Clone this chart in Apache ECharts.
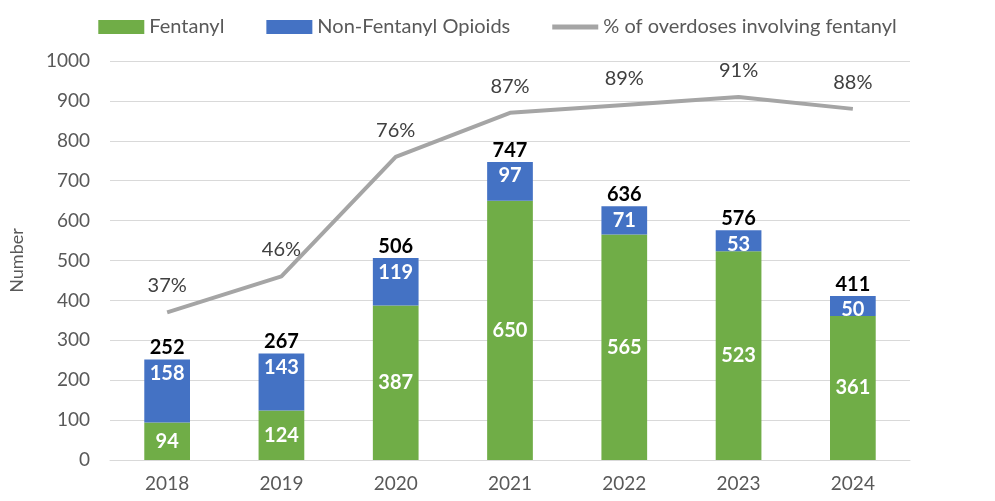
<!DOCTYPE html>
<html><head><meta charset="utf-8">
<script src="https://cdn.jsdelivr.net/npm/echarts@6/dist/echarts.min.js"></script>
<style>html,body{margin:0;padding:0;background:#fff}#c{width:995px;height:501px}</style>
</head><body><div id="c"></div>
<script>
const years = ['2018','2019','2020','2021','2022','2023','2024'];
const fentanyl = [94,124,387,650,565,523,361];
const nonFentanyl = [158,143,119,97,71,53,50];
const totals = [252,267,506,747,636,576,411];
const pctFentanyl = [37,46,76,87,89,91,88];
const yTicks = [0,100,200,300,400,500,600,700,800,900,1000];

const font = 'Lato, "Open Sans", sans-serif';
const chart = echarts.init(document.getElementById('c'));
chart.setOption({
  animation:false,
  textStyle:{fontFamily:font},
  legend:{
    top:12, left:'center', itemGap:42, itemWidth:46, itemHeight:14,
    textStyle:{fontSize:20,color:'#595959',fontFamily:font},
    data:[{name:'Fentanyl',icon:'rect'},{name:'Non-Fentanyl Opioids',icon:'rect'},
          {name:'% of overdoses involving fentanyl',icon:'path://M0,0 L46,0 L46,5 L0,5 Z',
           itemStyle:{color:'#A5A5A5',opacity:1}}]
  },
  grid:{left:108,right:85,top:61,bottom:41,containLabel:false},
  xAxis:{
    type:'category', data:years,
    axisLine:{show:true,lineStyle:{color:'#d9d9d9'}},
    axisTick:{show:false},
    axisLabel:{fontSize:19,color:'#595959',margin:14,fontFamily:font}
  },
  yAxis:[{
    type:'value', min:yTicks[0], max:yTicks[yTicks.length-1], interval:100,
    name:'Number', nameLocation:'middle', nameGap:84, nameRotate:90,
    nameTextStyle:{fontSize:18,color:'#595959',fontFamily:font},
    axisLabel:{fontSize:19,color:'#595959',margin:20,fontFamily:font,formatter:v=>String(v)},
    splitLine:{lineStyle:{color:'#d9d9d9',width:1}},
    axisLine:{show:false}, axisTick:{show:false}
  },{
    type:'value', min:0, max:100, show:false, splitLine:{show:false}
  }],
  series:[
    {name:'Fentanyl', type:'bar', stack:'s', data:fentanyl, barWidth:'40%',
     itemStyle:{color:'#70AD47'},
     label:{show:true,position:'inside',color:'#fff',fontWeight:'bold',fontSize:20,fontFamily:font}},
    {name:'Non-Fentanyl Opioids', type:'bar', stack:'s', data:nonFentanyl, barWidth:'40%',
     itemStyle:{color:'#4472C4'},
     label:{show:true,position:'insideTop',distance:4,color:'#fff',fontWeight:'bold',fontSize:20,fontFamily:font}},
    {name:'totals', type:'line', data:totals, symbol:'circle', symbolSize:1, showSymbol:true,
     itemStyle:{opacity:0}, lineStyle:{opacity:0}, silent:true,
     label:{show:true,position:'top',distance:1,color:'#000',opacity:1,fontWeight:'bold',fontSize:20,fontFamily:font}},
    {name:'% of overdoses involving fentanyl', type:'line', yAxisIndex:1, data:pctFentanyl,
     symbol:'circle', symbolSize:1, showSymbol:true, lineStyle:{color:'#A5A5A5',width:4}, itemStyle:{color:'#A5A5A5',opacity:0},
     label:{show:true,position:'top',distance:16,color:'#404040',opacity:1,fontSize:20,fontFamily:font,formatter:p=>p.value+'%'}}
  ]
});
</script></body></html>
